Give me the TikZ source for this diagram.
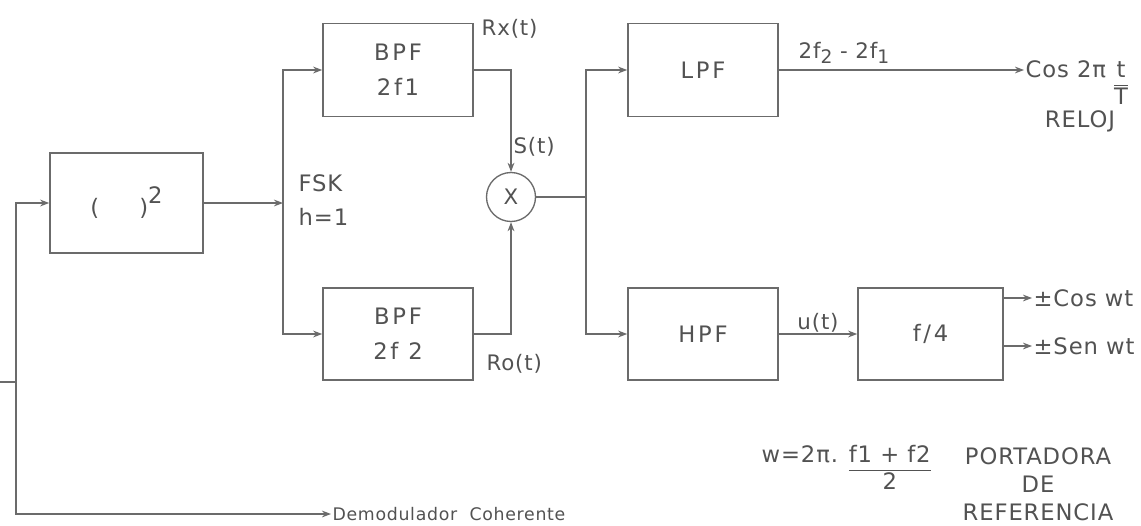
\documentclass[tikz,border=0pt]{standalone}
\usepackage{amsmath}
\usepackage{fontspec}
\setmainfont[LetterSpace=4]{DejaVu Sans}
\newfontfamily\boxfont[LetterSpace=12]{DejaVu Sans}
\usetikzlibrary{arrows.meta,positioning,calc}
\definecolor{inkgray}{gray}{0.32}
\definecolor{linegray}{gray}{0.42}
\newcommand{\overT}[2]{\begin{tabular}[t]{@{}c@{}}#1\\\hline #2\end{tabular}}

\begin{document}
\begin{tikzpicture}[x=0.75pt, y=-0.75pt,
  block/.style={draw=linegray, line width=1.2pt, text=inkgray, font=\boxfont\fontsize{17}{20}\selectfont, align=center, inner sep=0pt},
  mixer/.style={circle, draw=linegray, line width=1pt, minimum size=36.75pt, inner sep=0pt, text=inkgray, font=\fontsize{16}{18}\selectfont},
  wire/.style={draw=linegray, line width=0.9pt},
  arr/.style={wire, -{Stealth[length=2.4mm, width=1.8mm]}},
  lbl/.style={text=inkgray, font=\fontsize{16}{19}\selectfont, inner sep=1pt},
  big/.style={text=inkgray, font=\fontsize{17}{20}\selectfont, inner sep=1pt},
]
  \useasboundingbox (0,0) rectangle (1141,525);

  % squarer and band-pass pair
  \node[block, minimum width=114.75pt, minimum height=75pt] (sq) at (126.5,203) {(\hspace{30pt})\raisebox{9pt}{2}};
  \node[block, minimum width=112.5pt, minimum height=70pt] (bpfa) at (398,70) {BPF\\[6pt]2f1};
  \node[block, minimum width=112.5pt, minimum height=69pt] (bpfb) at (398,334) {BPF\\[6pt]2f 2};
  \node[mixer] (mult) at (511,197) {X};

  % filters after the product
  \node[block, minimum width=112.5pt, minimum height=70pt] (lpf) at (703,70) {LPF};
  \node[block, minimum width=112.5pt, minimum height=69pt] (hpf) at (703,334) {HPF};
  \node[block, minimum width=108.75pt, minimum height=69pt] (quarter) at (930.5,334) {f/4};

  \coordinate (in) at (0,382);
  \coordinate (tap) at (16,382);
  \coordinate (fork) at (283,203);
  \coordinate (join) at (586,197);

  % texts
  \node[lbl, anchor=west, font=\fontsize{13}{16}\selectfont] (demod) at (331,514) {Demodulador\ \ Coherente};
  \node[big, anchor=west, align=left] (fsk) at (297,200) {FSK\\[5pt]h=1};
  \node[lbl, anchor=west] (rx) at (480,29) {Rx(t)};
  \node[lbl, anchor=west] (st) at (512,147) {S(t)};
  \node[lbl, anchor=west] (ro) at (485,364) {Ro(t)};
  \node[lbl, anchor=base west] (diff) at (797,58) {2f\raisebox{-4pt}{\fontsize{14}{16}\selectfont 2} - 2f\raisebox{-4pt}{\fontsize{14}{16}\selectfont 1}};
  \node[big, anchor=base west] (clk) at (1024,77) {Cos 2π \overT{t}{T}};
  \node[big] (reloj) at (1080,121) {RELOJ};
  \node[big, anchor=west] (cosw) at (1032,298) {±Cos wt};
  \node[big, anchor=west] (senw) at (1032,346) {±Sen wt};
  \node[big, anchor=base west] (wform) at (760,462) {w=2π. \overT{f1 + f2}{2}};
  \node[big, align=center, font=\fontsize{17}{21}\selectfont] (carrier) at (1038,484) {PORTADORA\\DE\\REFERENCIA};

  % connectors
  \draw[wire] (in) -- (tap);
  \draw[arr] (tap) |- (sq.west);
  \draw[arr] (tap) |- (demod.west);
  \draw[arr] (sq.east) -- (fork);
  \draw[arr] (fork) |- (bpfa.west);
  \draw[arr] (fork) |- (bpfb.west);
  \draw[arr] (bpfa.east) -| (mult.north);
  \draw[arr] (bpfb.east) -| (mult.south);
  \draw[wire] (mult.east) -- (join);
  \draw[arr] (join) |- (lpf.west);
  \draw[arr] (join) |- (hpf.west);
  \draw[arr] (lpf.east) -- (lpf.east -| clk.west);
  \draw[arr] (hpf.east) -- node[lbl, above] (ut) {u(t)} (quarter.west);
  \draw[arr] (quarter.east |- cosw) -- (cosw.west);
  \draw[arr] (quarter.east |- senw) -- (senw.west);
\end{tikzpicture}
\end{document}
